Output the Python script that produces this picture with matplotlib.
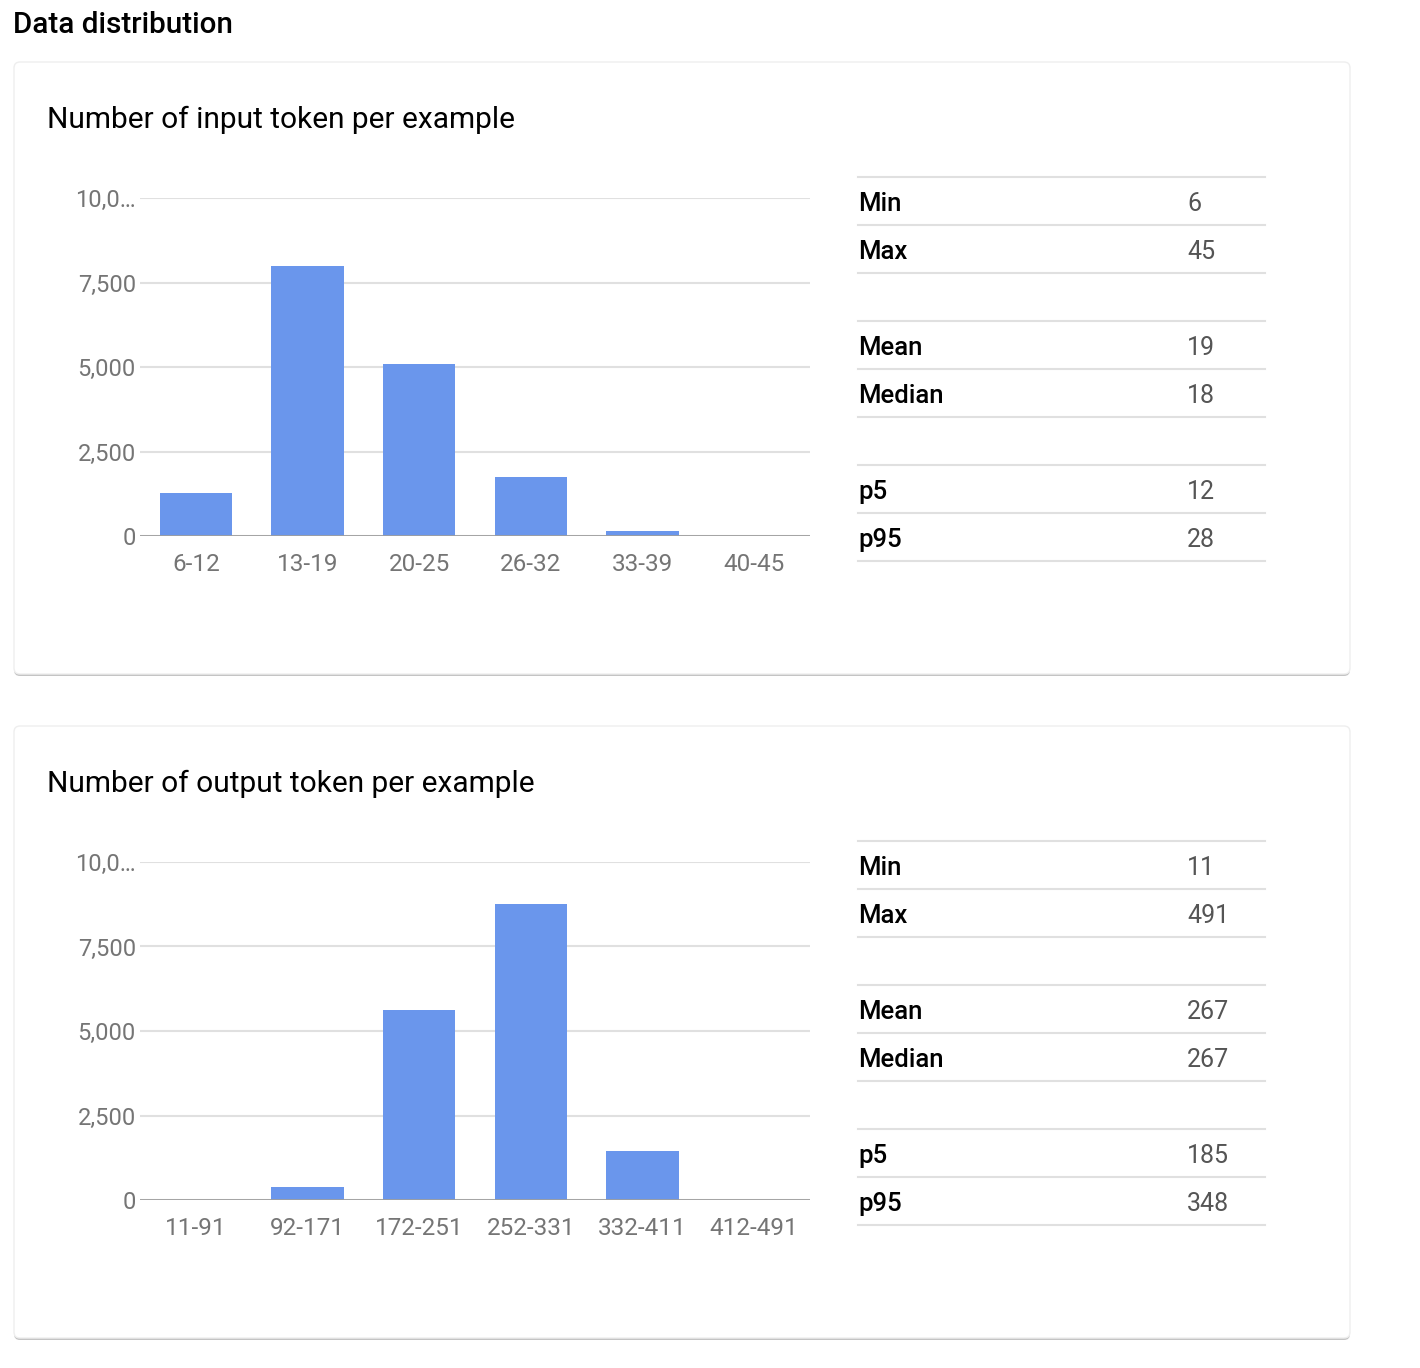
import matplotlib
matplotlib.use("Agg")
import matplotlib.pyplot as plt
from matplotlib.patches import FancyBboxPatch

plt.rcParams['font.family'] = ['Roboto', 'DejaVu Sans']

# data
page_title = "Data distribution"
chart_titles = ["Number of input token per example",
                "Number of output token per example"]
input_bins = ["6-12", "13-19", "20-25", "26-32", "33-39", "40-45"]
input_counts = [1270, 7990, 5090, 1740, 145, 0]
output_bins = ["11-91", "92-171", "172-251", "252-331", "332-411", "412-491"]
output_counts = [0, 375, 5635, 8765, 1440, 0]
y_ticks = [0, 2500, 5000, 7500, 10000]
y_tick_labels = ["0", "2,500", "5,000", "7,500", "10,0…"]
stat_names = ["Min", "Max", "Mean", "Median", "p5", "p95"]
input_stats = [6, 45, 19, 18, 12, 28]
output_stats = [11, 491, 267, 267, 185, 348]

W, H = 1420, 1368
fig = plt.figure(figsize=(W / 100, H / 100), dpi=100)

# background axes in pixel units (y goes down like the screenshot)
bg = fig.add_axes([0, 0, 1, 1])
bg.set_xlim(0, W)
bg.set_ylim(H, 0)
bg.axis('off')


def px_axes(left, top, right, bottom):
    return fig.add_axes([left / W, 1 - bottom / H, (right - left) / W, (bottom - top) / H])


bg.text(13, 25, page_title, fontsize=21.3, fontweight='medium', va='center', color='#000000')

panels = [(input_bins, input_counts, input_stats),
          (output_bins, output_counts, output_stats)]

for i, (bins, counts, stats) in enumerate(panels):
    dy = 664 * i

    # card with a soft shadow
    shadow = FancyBboxPatch((14, 62 + dy + 2), 1336, 612, boxstyle="round,pad=0,rounding_size=6",
                            facecolor='#c4c4c4', edgecolor='none', zorder=1)
    bg.add_patch(shadow)
    card = FancyBboxPatch((14, 62 + dy), 1336, 612, boxstyle="round,pad=0,rounding_size=6",
                          facecolor='white', edgecolor='#eeeeee', lw=1, zorder=2)
    bg.add_patch(card)

    bg.text(47, 120 + dy, chart_titles[i], fontsize=21.5, va='center', color='#000000', zorder=3)

    # the histogram
    ax = px_axes(140, 198 + dy, 810, 536 + dy)
    ax.patch.set_alpha(0)
    x = list(range(len(bins)))
    ax.bar(x, counts, width=0.645, color='#6a96ec', zorder=2)
    ax.set_xlim(-0.5, len(bins) - 0.5)
    ax.set_ylim(0, 10000)
    ax.set_yticks(y_ticks)
    ax.set_yticklabels(y_tick_labels)
    ax.set_xticks(x)
    ax.set_xticklabels(bins)
    ax.yaxis.grid(True, color='#e0e0e0', lw=1.5, zorder=0)
    ax.set_axisbelow(True)
    ax.axhline(0, color='#9e9e9e', lw=2, zorder=3)
    for s in ax.spines.values():
        s.set_visible(False)
    ax.tick_params(axis='y', length=0, pad=3, labelsize=17, labelcolor='#757575')
    ax.tick_params(axis='x', length=0, pad=12, labelsize=17.5, labelcolor='#757575')

    # stats table on the right
    for g in range(3):
        top = 177 + dy + g * 144
        for k in range(3):
            bg.plot([858, 1265], [top + k * 48] * 2, color='#e0e0e0', lw=1.5, zorder=3)
        for k in range(2):
            idx = g * 2 + k
            yc = top + 27 + k * 48
            bg.text(858, yc, stat_names[idx], fontsize=18.5, fontweight='medium',
                    va='center', color='#000000', zorder=3)
            bg.text(1187, yc, str(stats[idx]), fontsize=18, va='center',
                    color='#555555', zorder=3)

fig.savefig("out.png", dpi=100)
